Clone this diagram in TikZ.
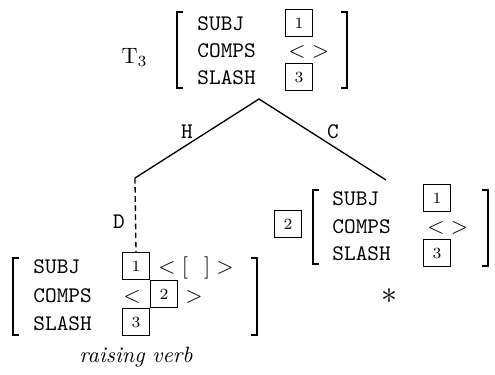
\documentclass[tikz,border=0pt]{standalone}
\usepackage{tikz}
\usetikzlibrary{positioning}
\tikzset{
  feat/.style={font=\ttfamily,anchor=base west,inner sep=0pt},
  tag/.style={rectangle,draw,semithick,minimum size=12pt,inner sep=0pt,font=\scriptsize},
  val/.style={anchor=base west,inner sep=0pt},
  brack/.style={line width=0.9pt},
  branch/.style={semithick},
  arclabel/.style={font=\ttfamily,inner sep=1pt}
}

\begin{document}
\begin{tikzpicture}[x=0.45pt,y=-0.45pt]
  \useasboundingbox (0,0) rectangle (495,375);

  % mother node T3
  \node[anchor=base east,inner sep=0pt] (tlabel) at (148,63) {T$_3$};
  \node[feat] (tsubj) at (197,30) {SUBJ};
  \node[feat] (tcomps) at (197,57) {COMPS};
  \node[feat] (tslash) at (197,84) {SLASH};
  \node[tag] (tone) at (299,23) {1};
  \node[val] (tlist) at (288,57) {$<\;>$};
  \node[tag] (tthree) at (299,77) {3};
  \draw[brack] (183,12) -| (177,88) -- (183,88);
  \draw[brack] (341,12) -| (347,88) -- (341,88);

  % tree
  \coordinate (top) at (259,99);
  \coordinate (hd) at (135,178);
  \coordinate (cd) at (386,180);
  \draw[branch] (hd) -- (top) -- (cd);
  \node[arclabel] (hlab) at (187,132) {H};
  \node[arclabel] (clab) at (333,132) {C};
  \node[arclabel] (dlab) at (119,222) {D};

  % raising verb
  \node[feat] (bsubj) at (33,273) {SUBJ};
  \node[feat] (bcomps) at (33,302) {COMPS};
  \node[feat] (bslash) at (33,330) {SLASH};
  \node[tag] (bone) at (136,266) {1};
  \node[val] (blist) at (158,273) {$<[\;\;\,]>$};
  \node[val] (bopen) at (123,302) {$<$};
  \node[tag,anchor=north west] (btwo) at (bone.south east) {2};
  \node[val] (bclose) at (185,302) {$>$};
  \node[tag,anchor=north east] (bthree) at (btwo.south west) {3};
  \draw[brack] (19,258) -| (13,335) -- (19,335);
  \draw[brack] (251,258) -| (257,335) -- (251,335);
  \node[font=\itshape] (rverb) at (136,357) {raising verb};

  \draw[branch,dashed,dash pattern=on 2.5pt off 1.6pt] (hd) -- (bone.north);

  % complement
  \node[tag] (ctag) at (288,224) {2};
  \node[feat] (csubj) at (332,205) {SUBJ};
  \node[feat] (ccomps) at (332,233) {COMPS};
  \node[feat] (cslash) at (332,260) {SLASH};
  \node[tag] (cone) at (437,198) {1};
  \node[val] (clist) at (427,233) {$<\;>$};
  \node[tag] (cthree) at (437,253) {3};
  \draw[brack] (319,190) -| (313,264) -- (319,264);
  \draw[brack] (482,190) -| (488,266) -- (482,266);
  \node[font=\Large] (cstar) at (390,296) {$\ast$};
\end{tikzpicture}
\end{document}
